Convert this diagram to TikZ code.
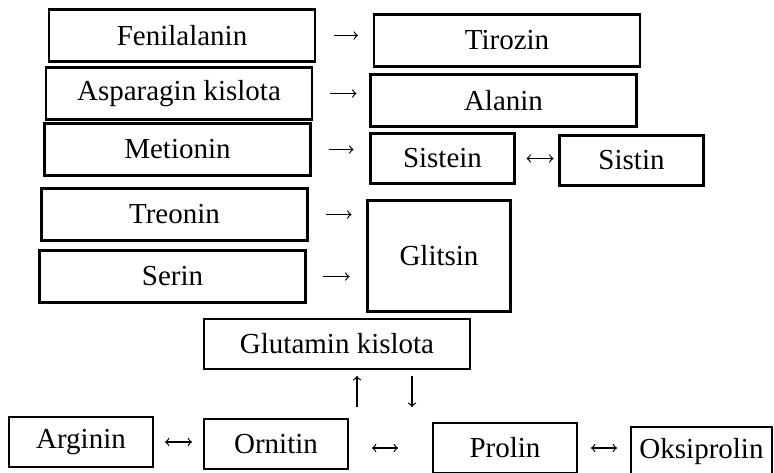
\documentclass[tikz,border=0pt]{standalone}
\usepackage{fontspec}
\setmainfont{Liberation Serif}
\usepackage{tikz}
\usetikzlibrary{arrows, positioning}

\begin{document}
\begin{tikzpicture}[x=0.5pt, y=-0.5pt, node distance=3pt,
        every node/.style={font=\fontsize{14.5}{17}\selectfont},
        widebox/.style={draw, rectangle, line width=1.1pt, minimum width=133pt, minimum height=26pt, inner sep=0pt, outer sep=0pt},
        smallbox/.style={draw, rectangle, line width=1.1pt, minimum width=72pt, minimum height=25pt, inner sep=0pt, outer sep=0pt},
        conv/.style={->, line width=0.6pt}]
        \useasboundingbox (0,0) rectangle (774,472);

        % Left column
        \node (fen) [widebox] at (182,35.5) {Fenilalanin};
        \node (asp) [widebox, below=of fen, xshift=-1.5pt] {Asparagin kislota};
        \node (met) [widebox, below=2pt of asp, xshift=-0.75pt] {Metionin};
        \node (tre) [widebox, below=6.5pt of met, xshift=-1.5pt] {Treonin};
        \node (ser) [widebox, below=5pt of tre, xshift=-1pt] {Serin};

        % Right column
        \node (tir) [widebox, right=29.5pt of fen, yshift=-2.5pt] {Tirozin};
        \node (ala) [widebox, below=4pt of tir, xshift=-1.75pt] {Alanin};
        \node (sis) [smallbox, below right=3.5pt and 0pt of ala.south west] {Sistein};
        \node (sistin) [smallbox, right=22.5pt of sis, yshift=-1pt] {Sistin};
        \node (gli) [smallbox, minimum width=71.5pt, minimum height=55.5pt, below right=8.5pt and -1.5pt of sis.south west] {Glitsin};

        % Glutamic acid
        \node (glu) [widebox, minimum height=25pt] at (337,344) {Glutamin kislota};

        % Bottom row
        \node (arg) [smallbox] at (81,442) {Arginin};
        \node (orn) [smallbox, right=25.5pt of arg, yshift=-1pt] {Ornitin};
        \node (pro) [smallbox, right=42.5pt of orn, yshift=-2pt] {Prolin};
        \node (oks) [smallbox, minimum width=70.5pt, right=27pt of pro, yshift=-2pt] {Oksiprolin};

        % Arrows
        \draw[conv, shorten <=9.5pt, shorten >=8pt] (fen.east) -- (fen.east -| tir.west);
        \draw[conv, shorten <=9pt, shorten >=7pt] (asp.east) -- (asp.east -| ala.west);
        \draw[conv, shorten <=9pt, shorten >=8.5pt] (met.east) -- (met.east -| sis.west);
        \draw[<->, line width=0.6pt, shorten <=6pt, shorten >=3pt] (sis.east) -- (sis.east -| sistin.west);
        \draw[conv, shorten <=9pt, shorten >=8pt] (tre.east) -- (tre.east -| gli.west);
        \draw[conv, shorten <=8.5pt, shorten >=9pt] (ser.east) -- (ser.east -| gli.west);
        \draw[<->, line width=0.6pt, shorten <=6pt, shorten >=6pt] (arg.east) -- (arg.east -| orn.west);
        \draw[<->, line width=0.6pt, shorten <=12pt, shorten >=17.5pt] (orn.east |- pro.west) -- (pro.west);
        \draw[<->, line width=0.6pt, shorten <=7pt, shorten >=7pt] (pro.east) -- (pro.east -| oks.west);
        \draw[conv, shorten <=6pt, shorten >=3.5pt] ([xshift=4.5pt]orn.north east) -- ([xshift=4.5pt]orn.north east |- glu.south);
        \draw[conv, shorten <=3.5pt, shorten >=8pt] ([xshift=-10.5pt]pro.north west |- glu.south) -- ([xshift=-10.5pt]pro.north west);
\end{tikzpicture}
\end{document}
